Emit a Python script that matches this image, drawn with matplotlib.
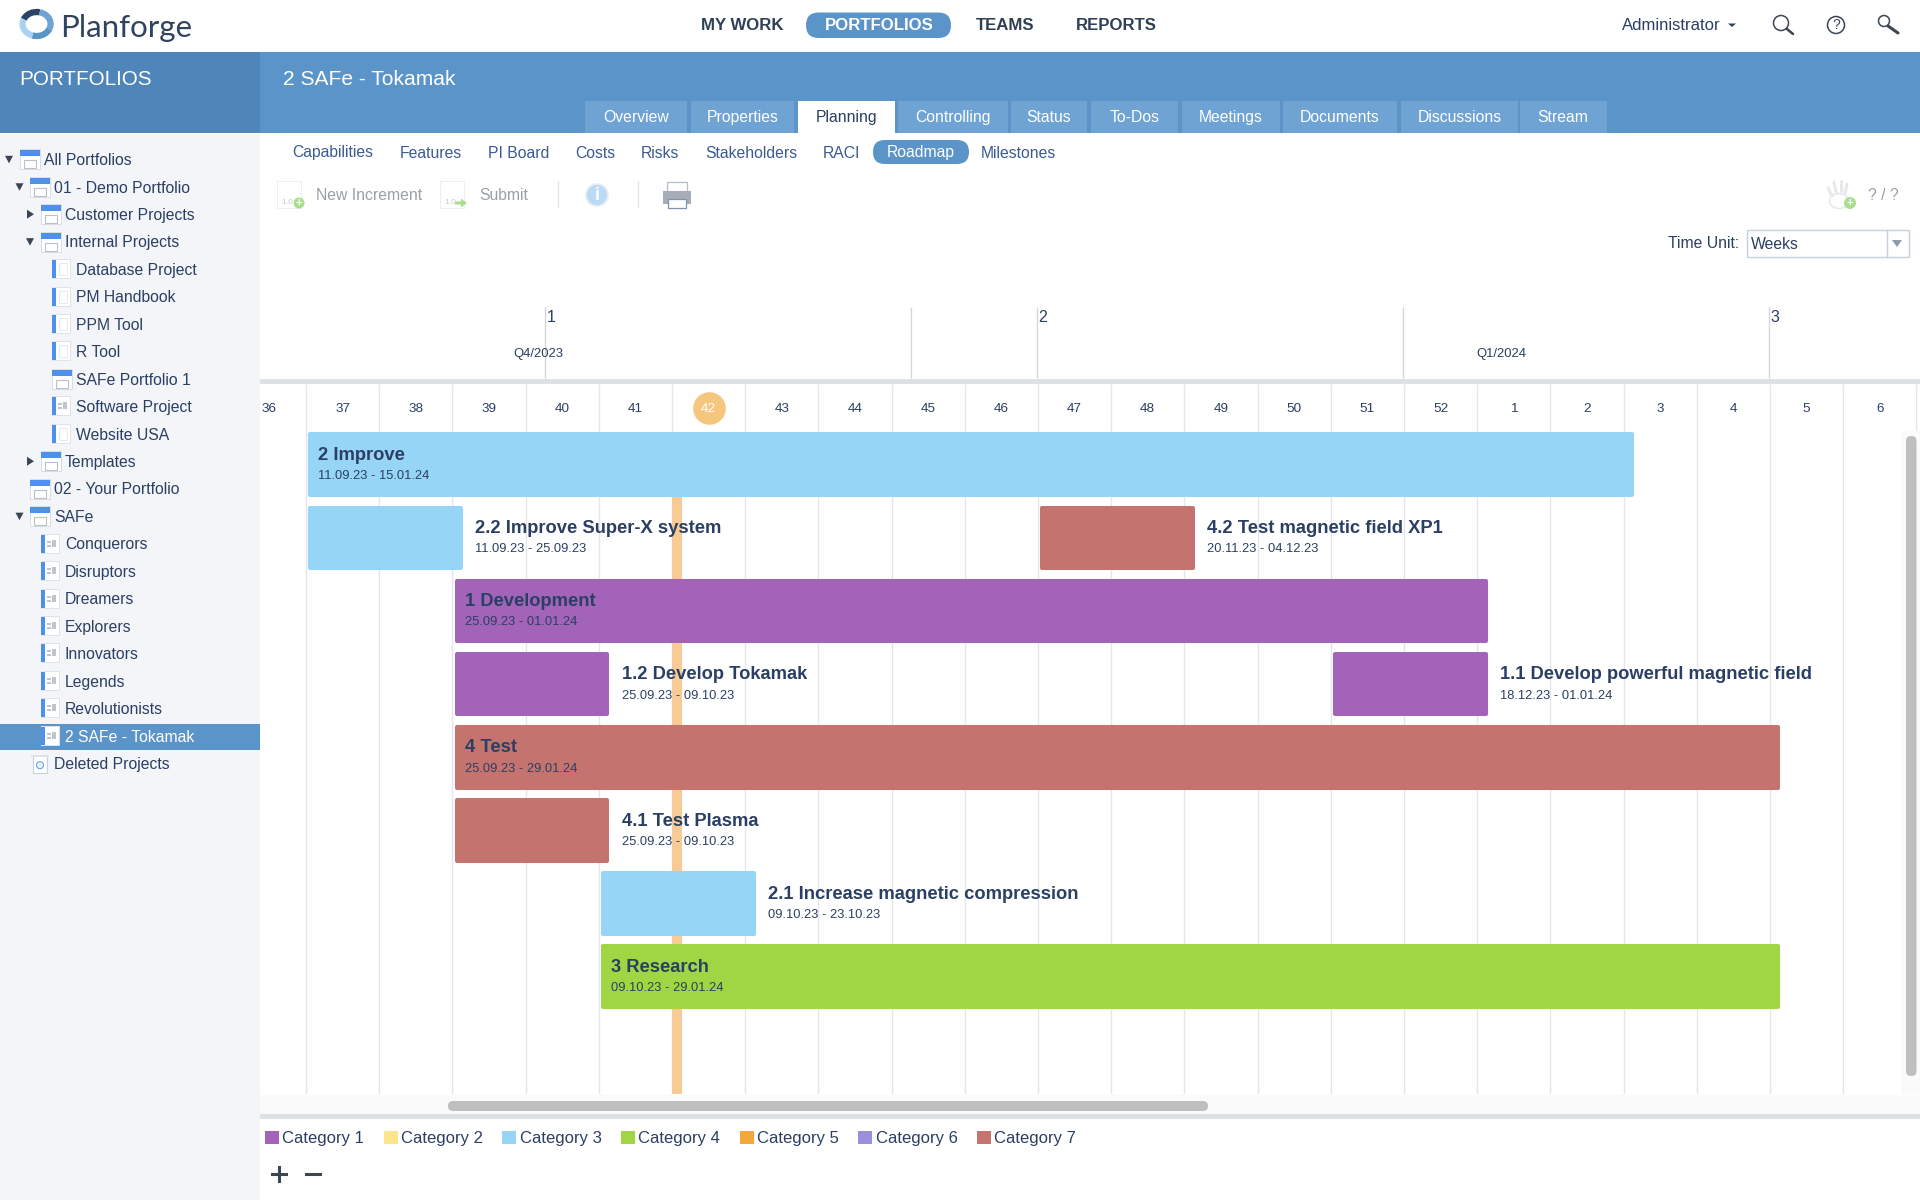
import matplotlib
matplotlib.use('Agg')
import matplotlib.pyplot as plt
import matplotlib.dates as mdates
import matplotlib.patches as patches
import pandas as pd

plt.rcParams['font.family'] = ['Liberation Sans', 'DejaVu Sans']

# roadmap data
bar_names = ['2 Improve', '2.2 Improve Super-X system', '4.2 Test magnetic field XP1', '1 Development',
             '1.2 Develop Tokamak', '1.1 Develop powerful magnetic field', '4 Test', '4.1 Test Plasma',
             '2.1 Increase magnetic compression', '3 Research']
bar_start = ['2023-09-11', '2023-09-11', '2023-11-20', '2023-09-25', '2023-09-25', '2023-12-18',
             '2023-09-25', '2023-09-25', '2023-10-09', '2023-10-09']
bar_end = ['2024-01-15', '2023-09-25', '2023-12-04', '2024-01-01', '2023-10-09', '2024-01-01',
           '2024-01-29', '2023-10-09', '2023-10-23', '2024-01-29']
bar_row = [0, 1, 1, 2, 3, 3, 4, 5, 6, 7]
bar_category = [2, 2, 6, 0, 0, 0, 6, 6, 2, 3]

categories = ['Category 1', 'Category 2', 'Category 3', 'Category 4', 'Category 5', 'Category 6', 'Category 7']
category_colors = ['#a363b8', '#fde58a', '#97d5f6', '#a0d643', '#f4a73b', '#9a8fdb', '#c5736f']

week_labels = [36, 37, 38, 39, 40, 41, 42, 43, 44, 45, 46, 47, 48, 49, 50, 51, 52, 1, 2, 3, 4, 5, 6]
first_week = '2023-09-04'
today = '2023-10-16'
current_week = 42
increment_labels = ['1', '2', '3']
increment_dates = ['2023-10-04', '2023-11-20', '2024-01-29']
quarter_lines = ['2023-11-08', '2023-12-25']
quarter_labels = ['Q4/2023', 'Q1/2024']
quarter_centers = ['2023-10-03 06:00', '2024-01-03 08:00']

# page texts
top_nav = ['MY WORK', 'PORTFOLIOS', 'TEAMS', 'REPORTS']
tabs = ['Overview', 'Properties', 'Planning', 'Controlling', 'Status', 'To-Dos', 'Meetings', 'Documents',
        'Discussions', 'Stream']
sub_nav = ['Capabilities', 'Features', 'PI Board', 'Costs', 'Risks', 'Stakeholders', 'RACI', 'Roadmap', 'Milestones']
tree_labels = ['All Portfolios', '01 - Demo Portfolio', 'Customer Projects', 'Internal Projects', 'Database Project',
               'PM Handbook', 'PPM Tool', 'R Tool', 'SAFe Portfolio 1', 'Software Project', 'Website USA',
               'Templates', '02 - Your Portfolio', 'SAFe', 'Conquerors', 'Disruptors', 'Dreamers', 'Explorers',
               'Innovators', 'Legends', 'Revolutionists', '2 SAFe - Tokamak', 'Deleted Projects']
tree_depth = [0, 1, 2, 2, 3, 3, 3, 3, 3, 3, 3, 2, 1, 1, 2, 2, 2, 2, 2, 2, 2, 2, 1]
tree_kind = ['f', 'f', 'f', 'f', 'p', 'p', 'p', 'p', 'f', 't', 'p', 'f', 'f', 'f', 't', 't', 't', 't', 't', 't', 't',
             't', 'd']
tree_arrow = ['v', 'v', '>', 'v', '', '', '', '', '', '', '', '>', '', 'v', '', '', '', '', '', '', '', '', '']

# layout in pixels
W, H = 1920, 1200
NAVY = '#2a3f63'
LINK = '#3a5a94'
BLUE = '#5b94c9'
DARK_BLUE = '#4f85b8'
TAB = '#6ea3d4'
GREY = '#9aa0a8'
GRID = '#e3e6ee'
BAND = '#dde1e6'
nav_x = [742.7, 879, 1004.7, 1116]
tab_left = [585, 691, 798, 898, 1011, 1091, 1182, 1283, 1401, 1519.5]
tab_right = [687, 793.5, 895, 1008, 1087, 1178, 1280, 1397, 1518, 1606.5]
sub_x = [292, 400, 487.5, 575, 641, 705, 823, 886.5, 981]
depth_x = [44, 54.5, 65, 76]
row_top = 159.3
row_step = 27.45
px_per_day = 73.2 / 7


def px_axes(left, top, right, bottom, **kw):
    return fig.add_axes([left / W, 1 - bottom / H, (right - left) / W, (bottom - top) / H], **kw)


def rect(ax, x0, y0, x1, y1, color, **kw):
    kw.setdefault('lw', 0)
    ax.add_patch(patches.Rectangle((x0, y0), x1 - x0, y1 - y0, fc=color, ec=kw.pop('ec', color), **kw))


def rounded(ax, x0, y0, x1, y1, r, color):
    ax.add_patch(patches.FancyBboxPatch((x0, y0), x1 - x0, y1 - y0, boxstyle='round,pad=0,rounding_size=%f' % r,
                                        fc=color, ec=color, lw=0))


def folder_icon(ax, x, y, w=20):
    rect(ax, x, y - 10, x + w, y + 10, 'white', ec='#d8dde4', lw=0.7)
    rect(ax, x, y - 9, x + w, y - 3, '#4d90ee')
    rect(ax, x + 4, y + 1, x + w - 4, y + 9, 'white', ec='#b8c0cc', lw=0.8)


def project_icon(ax, x, y, team=False):
    rect(ax, x, y - 10, x + 18, y + 9, 'white', ec='#dfe3e8', lw=0.7)
    rect(ax, x, y - 9, x + 3.5, y + 9, '#4d90ee')
    if team:
        rect(ax, x + 6, y - 3, x + 10, y - 1, '#bfc5cd')
        rect(ax, x + 6, y + 1, x + 10, y + 3, '#bfc5cd')
        rect(ax, x + 11, y - 4, x + 15, y + 3, '#bfc5cd')
    else:
        rect(ax, x + 7, y - 6, x + 15, y + 6, 'white', ec='#e6e9ed', lw=0.7)


def trash_icon(ax, x, y):
    rect(ax, x + 1, y - 7, x + 15, y + 10, 'white', ec='#c5d4e4', lw=0.8)
    rect(ax, x - 1, y - 8, x + 17, y - 6, '#dbe3ec')
    ax.add_patch(patches.Circle((x + 8, y + 2), 3.5, fc='#e8f3fc', ec='#6aa6dd', lw=0.8))


fig = plt.figure(figsize=(W / 100, H / 100), dpi=100, facecolor='white')

x0 = mdates.date2num(pd.Timestamp('2023-09-11'))
xlim = (x0 - 46 / px_per_day, x0 + 1614 / px_per_day)

# gantt body, dates on x and rows on y
ax = px_axes(260, 431, W, 1094, zorder=1)
ax.set_xlim(xlim)
ax.set_ylim(8.607, -0.462)
ax.axis('off')
week_starts = pd.date_range(first_week, periods=len(week_labels) + 1, freq='7D')
for d in week_starts:
    ax.axvline(mdates.date2num(d), color=GRID, lw=0.95, zorder=1)
today_num = mdates.date2num(pd.Timestamp(today))
ax.axvspan(today_num, today_num + 1, ymax=0.98, color='#f8cb96', lw=0, zorder=2)

for name, s, e, row, cat in zip(bar_names, bar_start, bar_end, bar_row, bar_category):
    s, e = pd.Timestamp(s), pd.Timestamp(e)
    left = mdates.date2num(s) + 0.4
    right = mdates.date2num(e) + 1 - 0.19
    ax.barh(row, right - left, left=left, height=0.83, color=category_colors[cat],
            edgecolor=category_colors[cat], lw=2.9, joinstyle='round', zorder=3)
    dates = s.strftime('%d.%m.%y') + ' - ' + e.strftime('%d.%m.%y')
    if (e - s).days > 14:
        tx, off = mdates.date2num(s), 12.5
    else:
        tx, off = mdates.date2num(e) + 1, 12.5
    ax.annotate(name, (tx, row), xytext=(off, 9.3), textcoords='offset pixels', fontsize=13.2, fontweight='bold',
                color=NAVY, ha='left', va='center', zorder=4)
    ax.annotate(dates, (tx, row), xytext=(off, -11.5), textcoords='offset pixels', fontsize=9.3,
                color=NAVY, ha='left', va='center', zorder=4)

# time header, same dates on x
head = px_axes(260, 305, W, 431, zorder=1)
head.set_xlim(xlim)
head.set_ylim(431, 305)
head.axis('off')
head.vlines(mdates.date2num(week_starts), 384, 431, color=GRID, lw=0.95)
head.axhspan(379, 384, color=BAND, lw=0)
for lab, d in zip(week_labels, week_starts):
    cx = mdates.date2num(d) + 3.5
    if lab == current_week:
        # circle has to stay round, so it is a marker
        head.plot([cx], [408], 'o', ms=23.5, color='#f5c77e', mew=0, clip_on=False)
        head.text(cx, 409.5, str(lab), color='white', fontsize=9.7, ha='center', va='center')
    else:
        head.text(cx, 409.5, str(lab), color=NAVY, fontsize=9.7, ha='center', va='center')
for lab, d in zip(increment_labels, increment_dates):
    dn = mdates.date2num(pd.Timestamp(d))
    head.vlines(dn - 0.1, 307, 378, color='#d3d5d8', lw=0.95)
    head.annotate(lab, (dn, 317.5), xytext=(0, 0), textcoords='offset pixels', color=NAVY, fontsize=11.5, va='center')
for d in quarter_lines:
    head.vlines(mdates.date2num(pd.Timestamp(d)) - 0.1, 307, 378, color='#d3d5d8', lw=0.95)
for lab, d in zip(quarter_labels, quarter_centers):
    head.text(mdates.date2num(pd.Timestamp(d)), 353.5, lab, color=NAVY, fontsize=9.4, ha='center', va='center')

# the page around the chart, in pixel coordinates
ui = px_axes(0, 0, W, H, zorder=3)
ui.set_xlim(0, W)
ui.set_ylim(H, 0)
ui.axis('off')
ui.patch.set_alpha(0)

rect(ui, 0, 52, W, 133, BLUE)
rect(ui, 0, 52, 260, 133, DARK_BLUE)
rect(ui, 0, 134, 260, H, '#f3f5f8')
ui.text(19.5, 79.5, 'PORTFOLIOS', color='white', fontsize=14.9, va='center')
ui.text(283, 79.5, '2 SAFe - Tokamak', color='white', fontsize=15.1, va='center')

# logo
for start, end, c in [(200, 285, '#2b4468'), (285, 20, '#6ea3d4'), (20, 110, '#5b94c9'), (110, 200, '#a9d3f0')]:
    ui.add_patch(patches.Arc((36.6, 24), 28, 24, theta1=start, theta2=end, color=c, lw=4.5))
ui.text(60, 28, 'Planforge', family='Lato', fontsize=22.5, color='#30435f', va='center')

# top nav
for lab, x in zip(top_nav, nav_x):
    if lab == 'PORTFOLIOS':
        rounded(ui, 806, 12.5, 951, 38, 12.7, BLUE)
    ui.text(x, 25.5, lab, color='white' if lab == 'PORTFOLIOS' else '#2f3f55', fontsize=12.1, fontweight='bold',
            ha='center', va='center')

ui.text(1622, 25, 'Administrator', color=NAVY, fontsize=12, va='center')
ui.add_patch(patches.Polygon([(1728, 23.5), (1736, 23.5), (1732, 27)], fc='#2f3f55', lw=0))
ui.add_patch(patches.Circle((1781, 23), 7.5, fc='none', ec='#3b4654', lw=1.1))
ui.plot([1787, 1793], [29, 34], color='#3b4654', lw=1.8, solid_capstyle='round')
ui.add_patch(patches.Circle((1836, 25), 8.5, fc='none', ec='#3b4654', lw=1.1))
ui.text(1836, 25, '?', color='#3b4654', fontsize=10, ha='center', va='center')
ui.add_patch(patches.Circle((1884, 21), 5.5, fc='none', ec='#3b4654', lw=1.1))
ui.plot([1888, 1898], [26, 33], color='#3b4654', lw=2.2, solid_capstyle='round')

# tabs
for lab, l, r in zip(tabs, tab_left, tab_right):
    active = lab == 'Planning'
    rect(ui, l, 101, r, 134 if active else 133, 'white' if active else TAB)
    ui.text((l + r) / 2, 122, lab, color=NAVY if active else 'white', fontsize=11.3, ha='center', va='baseline')

# sub nav
for lab, x in zip(sub_nav, sub_x):
    if lab == 'Roadmap':
        rounded(ui, 873, 140, 969, 164, 12, BLUE)
    ui.text(x, 157.5, lab, color='white' if lab == 'Roadmap' else LINK, fontsize=11.3, va='baseline')

# toolbar
for ix in [277, 440]:
    rect(ui, ix, 181, ix + 24, 208, 'white', ec='#eceef0', lw=0.8)
ui.text(281, 203, '1.0', color='#c8ccd2', fontsize=6, va='center')
ui.text(444, 203, '1.0', color='#c8ccd2', fontsize=6, va='center')
ui.add_patch(patches.Circle((299, 203), 5.5, fc='#a8df8e', lw=0))
ui.text(299, 203, '+', color='white', fontsize=8, ha='center', va='center', fontweight='bold')
ui.add_patch(patches.FancyArrow(455, 203, 12, 0, width=3, head_width=9, head_length=6, fc='#a8df8e', lw=0,
                                length_includes_head=True))
ui.text(316, 200.5, 'New Increment', color=GREY, fontsize=11.3, va='baseline')
ui.text(479, 200.5, 'Submit', color=GREY, fontsize=11.3, va='baseline')
for sx in [558, 638]:
    ui.plot([sx, sx], [181, 207], color='#e3e5e8', lw=1)
ui.add_patch(patches.Circle((597, 195), 11, fc='#bcd9f5', ec='#e6eef7', lw=1.2))
ui.text(597, 195, 'i', color='white', fontsize=13, fontweight='bold', ha='center', va='center')
rect(ui, 667, 182, 687, 192, 'white', ec='#b6bcc4', lw=0.9)
rect(ui, 663, 191, 691, 204, '#a6adb6')
rect(ui, 668, 199, 686, 208, 'white', ec='#7f95ad', lw=0.9)
# hand outline
for fx0, fy0, fx1, fy1 in [(1832, 196, 1828, 188), (1836, 192, 1834, 182), (1841, 191, 1841, 181), (1845, 193, 1847, 184)]:
    ui.plot([fx0, fx1], [fy0, fy1], color='#e6e8ea', lw=2.2, solid_capstyle='round')
ui.add_patch(patches.Ellipse((1839, 201), 19, 15, fc='white', ec='#e6e8ea', lw=1.1))
ui.add_patch(patches.Circle((1850, 203), 6, fc='#a8df8e', lw=0))
ui.text(1850, 203, '+', color='white', fontsize=8, ha='center', va='center', fontweight='bold')
ui.text(1868, 200, '? / ?', color=GREY, fontsize=11.3, va='baseline')

# time unit box
ui.text(1739, 248.5, 'Time Unit:', color=NAVY, fontsize=11.3, ha='right', va='baseline')
rect(ui, 1747, 229.5, 1909, 256.5, 'white', ec='#c5cfdd', lw=1)
ui.plot([1886.5, 1886.5], [229.5, 256.5], color='#c5cfdd', lw=1)
ui.add_patch(patches.Polygon([(1892, 240), (1902, 240), (1897, 247)], fc='#8b9bb0', lw=0))
ui.text(1751, 249, 'Weeks', color=NAVY, fontsize=11.3, va='baseline')

# project tree
rect(ui, 0, 723.5, 260, 750, BLUE)
for i, (lab, d, kind, arrow) in enumerate(zip(tree_labels, tree_depth, tree_kind, tree_arrow)):
    y = row_top + i * row_step
    tx = depth_x[d]
    selected = lab == '2 SAFe - Tokamak'
    ui.text(tx, y + 5.8, lab, color='white' if selected else NAVY, fontsize=11.3, va='baseline')
    ix = tx - 24.5
    if kind == 'f':
        folder_icon(ui, ix if d < 3 else tx - 24, y)
    elif kind == 'p':
        project_icon(ui, tx - 24, y)
    elif kind == 't':
        project_icon(ui, tx - 24, y, team=True)
    else:
        trash_icon(ui, ix + 2, y)
    ax_ = tx - 35
    if arrow == 'v':
        ui.add_patch(patches.Polygon([(ax_ - 4, y - 3.5), (ax_ + 4, y - 3.5), (ax_, y + 4)], fc='#3b4654', lw=0))
    elif arrow == '>':
        ui.add_patch(patches.Polygon([(ax_ - 3, y - 4.5), (ax_ - 3, y + 4.5), (ax_ + 4, y)], fc='#3b4654', lw=0))

# scrollbars and footer
rect(ui, 260, 1095, W, 1114, '#fafafa')
rounded(ui, 448, 1101, 1208, 1111, 5, '#bfbfbf')
rect(ui, 260, 1114, W, 1119, BAND)
rect(ui, 1901, 431, W, 1094, '#fafafa')
rounded(ui, 1906, 436, 1916.5, 1076, 5, '#bfbfbf')
ui.plot([272, 286], [1174, 1174], color='#3b4654', lw=2.2)
ui.plot([279, 279], [1167, 1181], color='#3b4654', lw=2.2)
ui.plot([306, 320], [1174, 1174], color='#3b4654', lw=2.2)

handles = [patches.Patch(fc=c, ec=c, lw=0) for c in category_colors]
leg = ui.legend(handles, categories, ncol=7, loc='upper left', bbox_to_anchor=(265, 1130.5), bbox_transform=ui.transData,
                frameon=False, fontsize=12, handlelength=0.84, handleheight=0.9, handletextpad=0.21,
                columnspacing=1.155, borderpad=0, borderaxespad=0, labelcolor=NAVY)

fig.savefig('out.png', dpi=100)
